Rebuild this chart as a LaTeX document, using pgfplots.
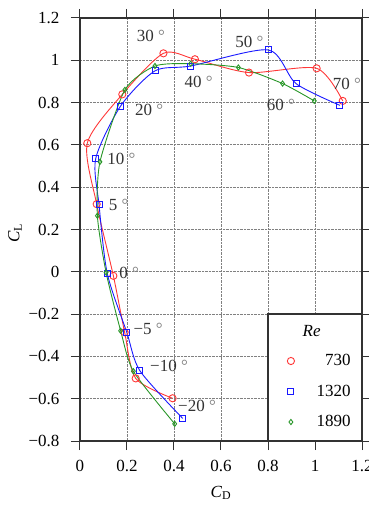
\documentclass[border=0pt]{standalone}
\usepackage{fontspec}
\setmainfont{Liberation Serif}
\usepackage{pgfplots}
\usepackage{pgfplotstable}
\pgfplotsset{compat=1.18}

\definecolor{reRed}{RGB}{255,55,55}
\definecolor{reBlue}{RGB}{25,25,255}
\definecolor{reGreen}{RGB}{40,150,40}
\definecolor{axGray}{RGB}{50,50,50}

% Lift/drag polars, angle of attack -20 ... 70 deg
\pgfplotstableread{
cd cl
0.394 -0.598
0.237 -0.504
0.190 -0.286
0.142 -0.019
0.071 0.320
0.031 0.608
0.180 0.839
0.355 1.033
0.489 1.005
0.719 0.942
1.007 0.962
1.118 0.808
}\reA

\pgfplotstableread{
cd cl
0.437 -0.693
0.255 -0.468
0.199 -0.286
0.116 -0.008
0.081 0.317
0.067 0.536
0.173 0.784
0.319 0.950
0.471 0.973
0.801 1.049
0.919 0.890
1.106 0.787
}\reB

\pgfplotstableread{
cd cl
0.403 -0.719
0.227 -0.470
0.173 -0.279
0.111 -0.003
0.074 0.265
0.085 0.520
0.191 0.860
0.319 0.973
0.471 0.984
0.674 0.966
0.862 0.890
0.997 0.808
}\reC

\newcommand{\ang}[1]{#1 {\color{gray}°}}

\begin{document}
\begin{tikzpicture}[font=\fontsize{17}{20}\selectfont]
\begin{axis}[
  name=ax,
  scale only axis,
  width=282pt, height=423pt,
  xmin=0, xmax=1.2, ymin=-0.8, ymax=1.2,
  xtick={0,0.2,0.4,0.6,0.8,1,1.2},
  xticklabels={0,0.2,0.4,0.6,0.8,1,1.2},
  ytick={-0.8,-0.6,-0.4,-0.2,0,0.2,0.4,0.6,0.8,1,1.2},
  yticklabels={−0.8,−0.6,−0.4,−0.2,0,0.2,0.4,0.6,0.8,1,1.2},
  yticklabel style={xshift=-8pt},
  xticklabel style={yshift=-7pt},
  tick align=outside,
  major tick length=9pt,
  tick style={line width=1pt, axGray},
  axis line style={line width=1.2pt, axGray},
  grid=major,
  major grid style={densely dotted, gray, line width=0.9pt},
  clip=false,
  xlabel={\textit{C}\textsubscript{D}},
  ylabel={\textit{C}\textsubscript{L}},
  x label style={at={(axis description cs:0.5,-0.123)}, anchor=center},
  y label style={at={(axis description cs:-0.2305,0.492)}, anchor=center},
  legend cell align=right,
  legend image code/.code={\draw[#1] plot coordinates {(0pt,0pt)};},
  legend style={draw=none, fill=none, at={(axis cs:1.152,-0.566)}, anchor=east,
    row sep=15.5pt, column sep=22pt, inner sep=0pt,
    nodes={inner sep=0pt, text height=12pt, text depth=3pt}},
]
\addplot[reRed, line width=0.9pt, smooth, tension=0.45, mark=o, mark size=3.6pt, forget plot] table {\reA};
\addplot[reBlue, line width=0.9pt, smooth, tension=0.45, mark=square, mark size=3pt, forget plot] table {\reB};
\addplot[reGreen, line width=0.9pt, smooth, tension=0.4, mark=diamond, mark size=2.6pt, forget plot] table {\reC};

% legend frame in the lower right corner
\draw[fill=white, draw=axGray, line width=1.2pt] (axis cs:0.8,-0.8) rectangle (axis cs:1.2,-0.2);
\node at (axis cs:0.986,-0.279) {\textit{Re}};

\addlegendimage{only marks, reRed, mark=o, mark size=3.6pt, line width=0.9pt}
\addlegendentry{730}
\addlegendimage{only marks, reBlue, mark=square, mark size=3pt, line width=0.9pt}
\addlegendentry{1320}
\addlegendimage{only marks, reGreen, mark=diamond, mark size=2.6pt, line width=0.9pt}
\addlegendentry{1890}

% angle of attack labels
\begin{scope}[every node/.style={anchor=west, inner sep=0pt, text=black!80}]
\node at (axis cs:0.241,1.113) {\ang{30}};
\node at (axis cs:0.660,1.085) {\ang{50}};
\node at (axis cs:0.444,0.896) {\ang{40}};
\node at (axis cs:0.234,0.764) {\ang{20}};
\node at (axis cs:0.794,0.787) {\ang{60}};
\node at (axis cs:1.075,0.886) {\ang{70}};
\node at (axis cs:0.116,0.532) {\ang{10}};
\node at (axis cs:0.122,0.315) {\ang{5}};
\node at (axis cs:0.167,-0.006) {\ang{0}};
\node at (axis cs:0.227,-0.271) {\ang{−5}};
\node at (axis cs:0.298,-0.445) {\ang{−10}};
\node at (axis cs:0.417,-0.634) {\ang{−20}};
\end{scope}
\end{axis}
\pgfresetboundingbox
\path ([xshift=-80pt,yshift=-65pt]ax.south west) rectangle ([xshift=7pt,yshift=18pt]ax.north east);
\end{tikzpicture}
\end{document}
